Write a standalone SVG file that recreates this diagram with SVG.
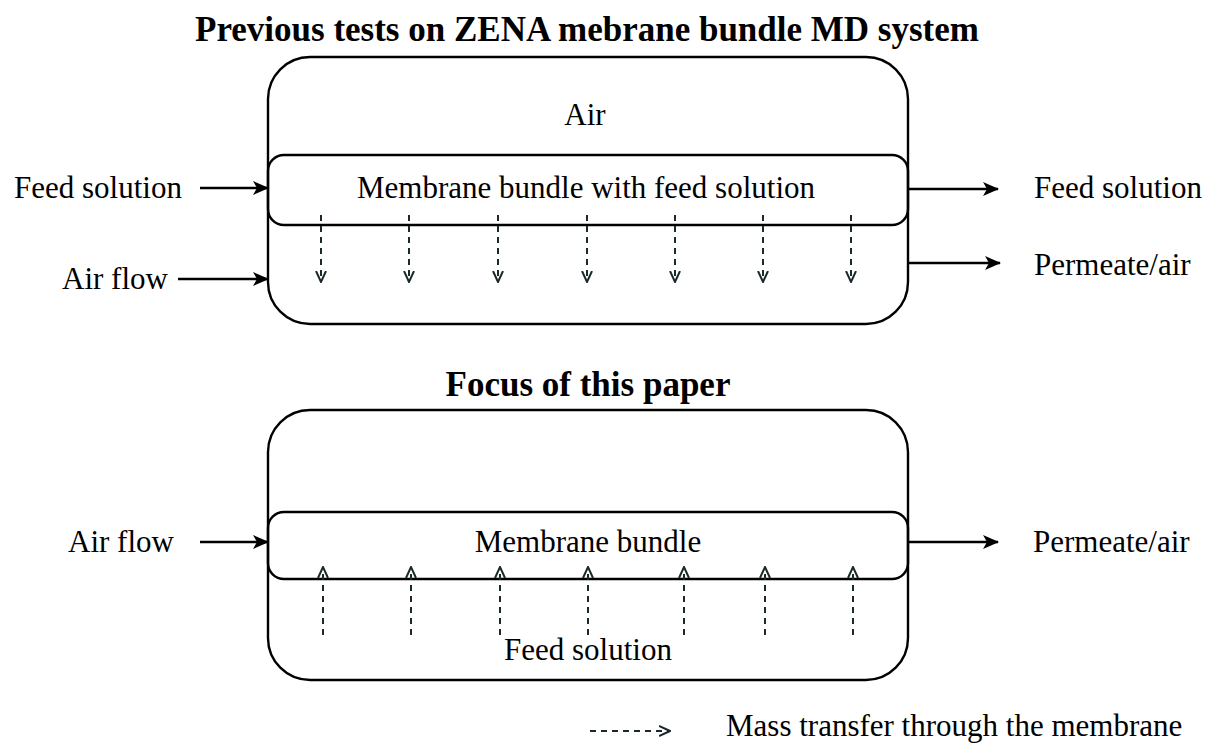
<svg xmlns="http://www.w3.org/2000/svg" width="1212" height="745" viewBox="0 0 1212 745">
<style>
.t{font-family:"Liberation Serif",serif;font-size:31px;fill:#000}
.h{font-family:"Liberation Serif",serif;font-size:35px;font-weight:bold;fill:#000}
.box{fill:none;stroke:#000;stroke-width:2.4}
.ar{stroke:#000;stroke-width:2.4;fill:none;marker-end:url(#ah)}
.da{stroke:#1a2a2a;stroke-width:2;fill:none;stroke-dasharray:6 5;marker-end:url(#oh)}
</style>
<defs>
<marker id="ah" viewBox="0 0 16 14" refX="15" refY="7" markerWidth="16" markerHeight="14" markerUnits="userSpaceOnUse" orient="auto"><path d="M0,0 L16,7 L0,14 L4,7 Z" fill="#000"/></marker>
<marker id="oh" viewBox="0 0 12 12" refX="11" refY="6" markerWidth="12" markerHeight="12" markerUnits="userSpaceOnUse" orient="auto"><path d="M0,1 L11,6 L0,11" fill="none" stroke="#1a2a2a" stroke-width="2"/></marker>
</defs>
<text class="h" x="587" y="41" text-anchor="middle">Previous tests on ZENA mebrane bundle MD system</text>
<text class="h" x="588" y="396" text-anchor="middle">Focus of this paper</text>
<g id="top-outer"><rect class="box" x="268" y="57" width="640" height="267" rx="42"/><text class="t" x="585" y="125" text-anchor="middle">Air</text></g>
<g id="top-inner"><rect class="box" x="268" y="155" width="640" height="70" rx="16"/><text class="t" x="586" y="198" text-anchor="middle">Membrane bundle with feed solution</text></g>
<g id="bot-outer"><rect class="box" x="268" y="410" width="640" height="270" rx="42"/><text class="t" x="588" y="660" text-anchor="middle">Feed solution</text></g>
<g id="bot-inner"><rect class="box" x="268" y="512" width="640" height="67" rx="16"/><text class="t" x="588" y="552" text-anchor="middle">Membrane bundle</text></g>
<g id="labels">
<text class="t" x="14" y="198">Feed solution</text>
<text class="t" x="62" y="289">Air flow</text>
<text class="t" x="1034" y="198">Feed solution</text>
<text class="t" x="1034" y="275">Permeate/air</text>
<text class="t" x="68" y="552">Air flow</text>
<text class="t" x="1033" y="552">Permeate/air</text>
<text class="t" x="726" y="736">Mass transfer through the membrane</text>
</g>
<g id="connectors">
<path class="ar" d="M200,188 H268"/>
<path class="ar" d="M178,279 H268"/>
<path class="ar" d="M908,189 H998"/>
<path class="ar" d="M908,263 H1000"/>
<path class="ar" d="M200,542 H268"/>
<path class="ar" d="M908,542 H998"/>
<path class="da" d="M321,215 V282"/>
<path class="da" d="M409,215 V282"/>
<path class="da" d="M498,215 V282"/>
<path class="da" d="M587,215 V282"/>
<path class="da" d="M675,215 V282"/>
<path class="da" d="M763,215 V282"/>
<path class="da" d="M851,215 V282"/>
<path class="da" d="M323,635 V567"/>
<path class="da" d="M411,635 V567"/>
<path class="da" d="M500,635 V567"/>
<path class="da" d="M588,635 V567"/>
<path class="da" d="M684,635 V567"/>
<path class="da" d="M765,635 V567"/>
<path class="da" d="M853,635 V567"/>
<path class="da" d="M590,731 H670"/>
</g>
</svg>
